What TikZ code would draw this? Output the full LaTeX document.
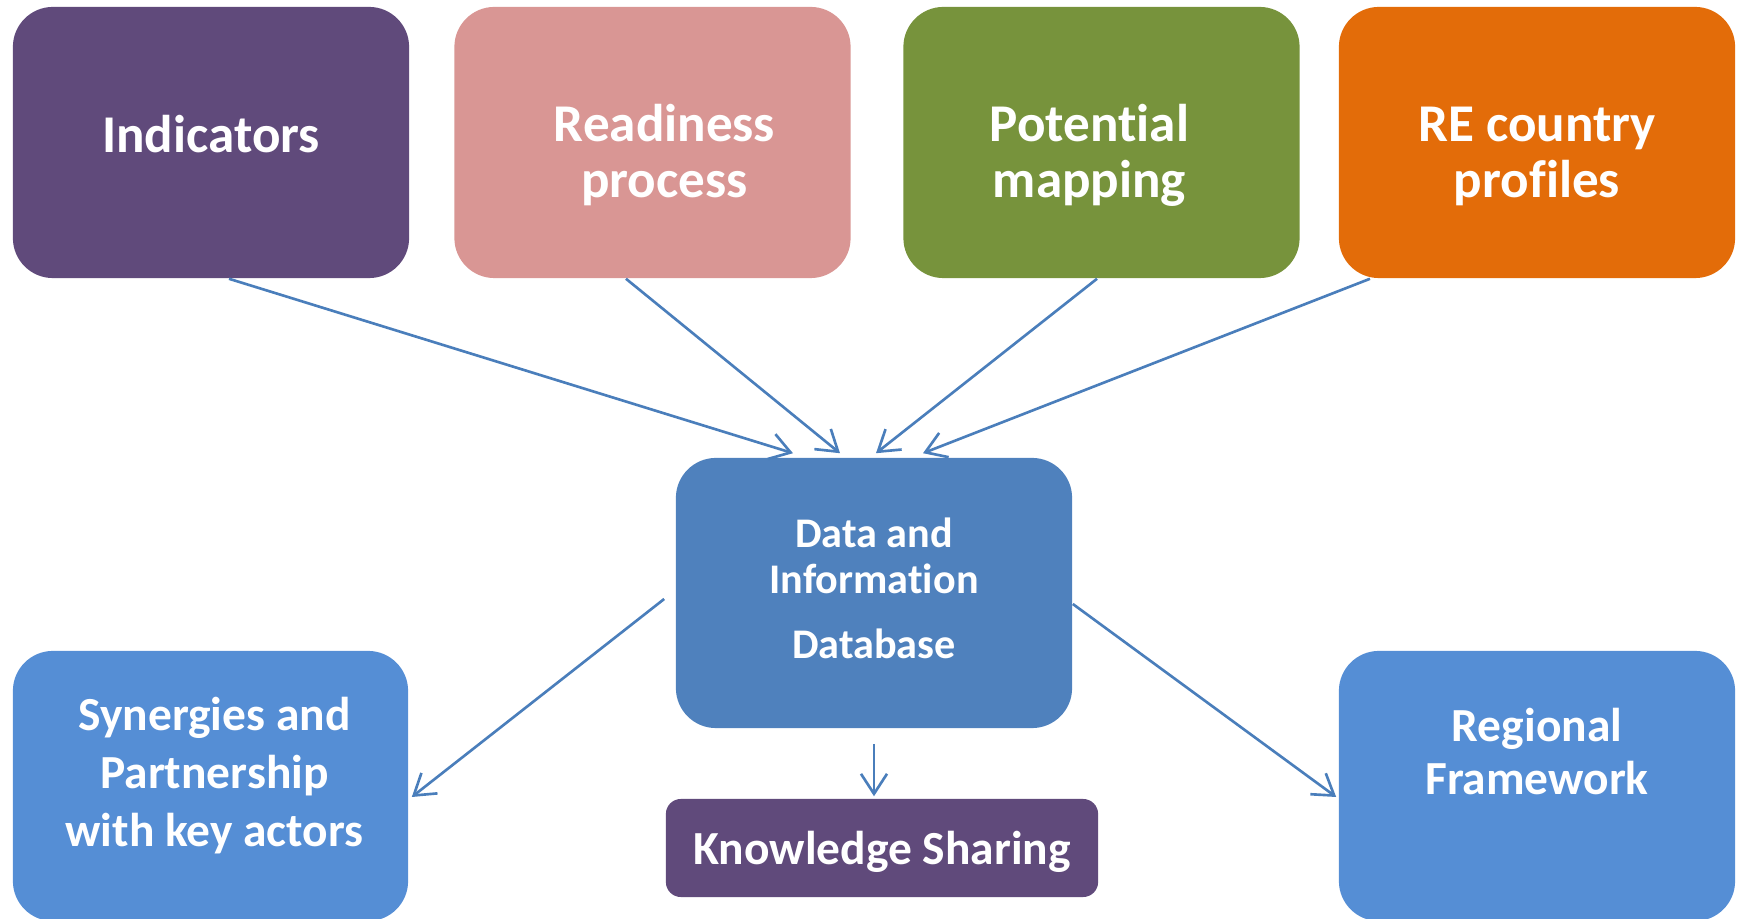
\documentclass[tikz,border=0pt]{standalone}
\usepackage{fontspec}
\setmainfont{Carlito}[Ligatures=CommonOff]
\usetikzlibrary{arrows.meta,positioning,calc}
\definecolor{INDpurple}{RGB}{96,74,123}
\definecolor{RDYpink}{RGB}{217,150,148}
\definecolor{POTgreen}{RGB}{119,147,60}
\definecolor{REorange}{RGB}{227,108,9}
\definecolor{DBblue}{RGB}{79,129,189}
\definecolor{OUTblue}{RGB}{85,142,213}
\definecolor{ARRblue}{RGB}{74,126,187}
\tikzstyle{bigbox}=[rounded corners=0.4cm,inner sep=0pt,minimum width=3.96cm,minimum height=2.71cm,align=center,text=white,font=\fontsize{15.1}{16}\selectfont\bfseries]
\tikzstyle{twoline}=[text height=1.1cm,text depth=0cm]
\tikzstyle{outbox}=[bigbox,fill=OUTblue,minimum height=2.7cm,font=\fontsize{13.5}{16.5}\selectfont\bfseries]
\tikzstyle{link}=[ARRblue,line width=0.75pt,->]

\begin{document}
\begin{tikzpicture}[x=0.01cm,y=-0.01cm,>={Straight Barb[length=2mm,width=2.6mm]}]

  \useasboundingbox (0,0) rectangle (1738,919);

  % top row
  \node[bigbox,fill=INDpurple,text depth=0.18cm] (ind) at (211,142.5) {Indicators};
  \node[bigbox,twoline,fill=RDYpink] (rdy) at (652.5,142.5) {\hspace*{0.24cm}Readiness\\\hspace*{0.24cm}process};
  \node[bigbox,twoline,fill=POTgreen] (pot) at (1101.5,142.5) {Potential\hspace*{0.24cm}\\mapping\hspace*{0.24cm}};
  \node[bigbox,twoline,fill=REorange] (re) at (1537,142.5) {RE country\\profiles};

  % database
  \node[bigbox,fill=DBblue,minimum height=2.7cm,text depth=0.09cm,font=\fontsize{12}{13}\selectfont\bfseries] (db) at (874,593) {Data and\\Information\\[5.5pt]Database};

  % outputs
  \node[outbox,minimum width=3.95cm,text depth=0.28cm] (syn) at (210.5,786) {\hspace*{0.08cm}Synergies and\\\hspace*{0.08cm}Partnership\\\hspace*{0.08cm}with key actors};
  \node[outbox,text depth=0.7cm,font=\fontsize{13.5}{15}\selectfont\bfseries] (reg) at (1537,786) {Regional\\Framework};
  \node[bigbox,fill=INDpurple,rounded corners=0.15cm,minimum width=4.32cm,minimum height=0.98cm,text depth=0pt,font=\fontsize{13.5}{15}\selectfont\bfseries] (ks) at (882,848) {Knowledge Sharing};

  % inputs to database
  \draw[link] ($(ind.south)+(18,0)$) -- ($(db.north)+(-81,-4)$);
  \draw[link] ($(rdy.south)+(-26.5,0)$) -- ($(db.north)+(-34,-4)$);
  \draw[link] ($(pot.south)+(-4.5,0)$) -- ($(db.north)+(2,-4)$);
  \draw[link] ($(re.south)+(-167,0)$) -- ($(db.north)+(49,-4)$);

  % database to outputs
  \draw[link] ($(db.west)+(-11,6)$) -- ($(syn.east)+(3,11)$);
  \draw[link] ($(db.east)+(0,11)$) -- ($(reg.west)+(-2,11)$);
  \draw[link] ($(db.south)+(0,15)$) -- ($(ks.north)+(-8,-2)$);

\end{tikzpicture}
\end{document}
